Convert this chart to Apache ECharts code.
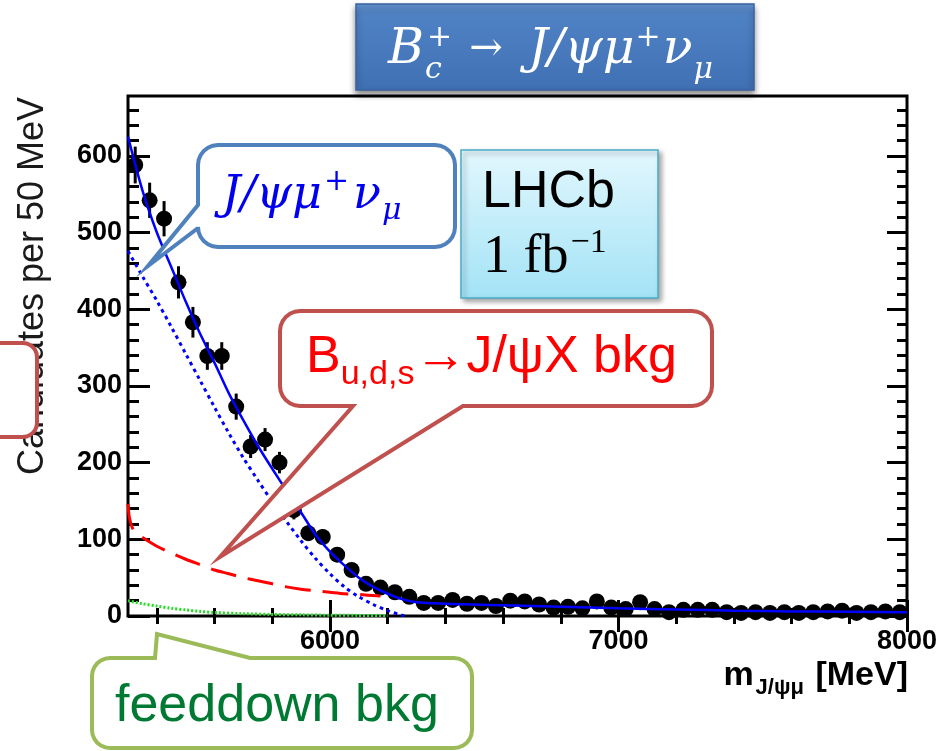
<!DOCTYPE html>
<html><head><meta charset="utf-8">
<script src="https://cdn.jsdelivr.net/npm/echarts@6/dist/echarts.min.js"></script>
<style>html,body{margin:0;padding:0;background:#fff}#c{width:947px;height:751px}</style>
</head><body><div id="c"></div>
<script>
// ---- data ----
const massBins = [5325,5375,5425,5475,5525,5575,5625,5675,5725,5775,5825,5875,5925,5975,6025,6075,6125,6175,6225,6275,
  6325,6375,6425,6475,6525,6575,6625,6675,6725,6775,6825,6875,6925,6975,7025,7075,7125,7175,7225,7275,
  7325,7375,7425,7475,7525,7575,7625,7675,7725,7775,7825,7875,7925,7975];
const candidates = [588,542,518,435,383,339,339,273,221,230,200,138,108,103,80,60,42,37,31,25,
  17,17,21,16,17,13,20,19,15,11,12,10,19,11,9,18,9,5,8,8,
  8,5,4,5,4,5,4,5,6,7,4,5,6,5];
const candErrors = [24,23,23,21,20,18,18,17,15,15,14,12,10,10,9,8,7,6,6,5,
  4,4,5,4,4,4,4,4,4,3,3,3,4,3,3,4,3,2,3,3,
  3,2,2,2,2,2,2,2,2,3,2,2,2,2];
const totalX   = [5300,5350,5400,5450,5500,5550,5600,5650,5700,5750,5800,5850,5900,5950,6000,6050,6100,6150,6200,6250,6300,6400,6500,6600,6800,7000,7200,7400,7600,7800,8000];
const totalFit = [625,555,500,455,410,368,330,290,255,222,192,163,135,106,84,66,50,38,29,22,18,16,15,14,12,10,8.5,7,6,5.5,5];
const signalX   = [5300,5350,5400,5450,5500,5550,5600,5650,5700,5750,5800,5850,5900,5950,6000,6050,6100,6150,6200,6250,6270];
const signalFit = [476,443,411,377,342,307,272,238,206,177,149,123,98,75,55,38,25,15,7,1,0];
const bkgX   = [5300,5305,5315,5330,5360,5400,5450,5500,5550,5600,5650,5700,5750,5800,5850,5900,5950,6000,6050,6100,6175];
const bkgFit = [146,128,115,108,100,91,82,74,67,60,55,50,46,42,38,35,33,31,29,28,26];
const feedX   = [5300,5350,5400,5450,5500,5550,5600,5700,5800,5900,6000,6100,6200];
const feedFit = [20,16,13,10,8,6,4.5,3,2,1.5,1,0.8,0.5];
const xMajorTicks = [6000,7000,8000];
const xMinorTicks = [5400,5600,5800,6200,6400,6600,6800,7200,7400,7600,7800];
const yMajorTicks = [0,100,200,300,400,500,600];
const yMinorTicks = [20,40,60,80,120,140,160,180,220,240,260,280,320,340,360,380,420,440,460,480,520,540,560,580,620,640,660];

const zip = (xs, ys) => xs.map((x, i) => [x, ys[i]]);

// rounded rectangle outline (clockwise) with an optional pointer, as polygon points
function calloutPoints(x, y, w, h, r, p) {
  const R = x + w, B = y + h, pts = [];
  const arc = (cx, cy, a0, a1) => { for (let k = 0; k <= 6; k++) { const a = a0 + (a1 - a0) * k / 6; pts.push([cx + r * Math.cos(a), cy + r * Math.sin(a)]); } };
  arc(x + r, y + r, Math.PI, 1.5 * Math.PI);
  if (p && p.edge === 'top') pts.push([p.a, y], p.tip, [p.b, y]);
  arc(R - r, y + r, 1.5 * Math.PI, 2 * Math.PI);
  arc(R - r, B - r, 0, 0.5 * Math.PI);
  if (p && p.edge === 'bottom') pts.push([p.b, B], p.tip, [p.a, B]);
  arc(x + r, B - r, 0.5 * Math.PI, Math.PI);
  if (p && p.edge === 'left') pts.push([x, p.b], p.tip, [x, p.a]);
  return pts;
}

const X0 = 5300, X1 = 8000, Y0 = 0, Y1 = 678;
const tickFont = { fontFamily: 'Liberation Sans', fontWeight: 'bold', fontSize: 27, color: '#000', formatter: v => String(v) };
function xAx(pos, ticks, len, labels) {
  return { type: 'value', min: X0, max: X1, position: pos, gridIndex: 0,
    axisLine: { show: false }, splitLine: { show: false },
    axisTick: { show: true, inside: true, length: len, customValues: ticks, lineStyle: { color: '#000', width: 3 } },
    axisLabel: labels ? Object.assign({ show: true, customValues: ticks, margin: 12 }, tickFont) : { show: false } };
}
function yAx(pos, ticks, len, labels) {
  return { type: 'value', min: Y0, max: Y1, position: pos, gridIndex: 0,
    axisLine: { show: false }, splitLine: { show: false },
    axisTick: { show: true, inside: true, length: len, customValues: ticks, lineStyle: { color: '#000', width: 3 } },
    axisLabel: labels ? Object.assign({ show: true, customValues: ticks, margin: 6 }, tickFont) : { show: false } };
}

const serifI = { fontFamily: 'DejaVu Serif', fontStyle: 'italic' };
const chart = echarts.init(document.getElementById('c'), null, { renderer: 'canvas' });
chart.setOption({
  animation: false,
  backgroundColor: '#fff',
  grid: { left: 128, right: 40, top: 96, bottom: 135, show: true, borderColor: '#000', borderWidth: 3, backgroundColor: 'transparent' },
  xAxis: [xAx('bottom', xMajorTicks, 16, true), xAx('bottom', xMinorTicks, 8, false), xAx('top', xMajorTicks, 16, false), xAx('top', xMinorTicks, 8, false)],
  yAxis: [yAx('left', yMajorTicks, 22, true), yAx('left', yMinorTicks, 11, false), yAx('right', yMajorTicks, 20, false), yAx('right', yMinorTicks, 10, false)],
  series: [
    { type: 'custom', xAxisIndex: 0, yAxisIndex: 0, z: 3, clip: true,
      data: massBins.map((m, i) => [m, candidates[i], candErrors[i]]),
      encode: { x: 0, y: 1 },
      renderItem: (params, api) => {
        const x = api.value(0), y = api.value(1), e = api.value(2);
        const a = api.coord([x, y - e]), b = api.coord([x, y + e]);
        return { type: 'line', shape: { x1: a[0], y1: a[1], x2: b[0], y2: b[1] }, style: { stroke: '#000', lineWidth: 3 } };
      } },
    { type: 'scatter', xAxisIndex: 0, yAxisIndex: 0, z: 4, symbol: 'circle', symbolSize: 16,
      itemStyle: { color: '#000', opacity: 1 }, data: zip(massBins, candidates) },
    { type: 'line', z: 5, smooth: 0.3, showSymbol: false, data: zip(feedX, feedFit),
      lineStyle: { color: '#22e022', width: 3, type: [2, 2] } },
    { type: 'line', z: 5, smooth: 0.3, showSymbol: false, data: zip(bkgX, bkgFit),
      lineStyle: { color: '#ff0000', width: 3, type: [26, 12] } },
    { type: 'line', z: 5, smooth: 0.3, showSymbol: false, data: zip(signalX, signalFit),
      lineStyle: { color: '#0000ff', width: 3, type: [3.5, 4] } },
    { type: 'line', z: 6, smooth: 0.3, showSymbol: false, data: zip(totalX, totalFit),
      lineStyle: { color: '#0000ff', width: 2.5 } }
  ],
  graphic: [
    // y axis title
    { type: 'text', x: 33, y: 286, rotation: Math.PI / 2, z: 10,
      style: { text: 'Candidates per 50 MeV', font: '36px "Liberation Sans"', fill: '#1a1a1a', align: 'center', verticalAlign: 'middle', textAlign: 'center', textVerticalAlign: 'middle' } },
    // x axis title
    { type: 'text', x: 908, y: 676, z: 10,
      style: { text: '{m|m}{s|J/ψμ}{m| [MeV]}', align: 'right', verticalAlign: 'middle', textAlign: 'right', textVerticalAlign: 'middle',
        rich: { m: { fontFamily: 'Liberation Sans', fontWeight: 'bold', fontSize: 34, fill: '#000', lineHeight: 40 },
                s: { fontFamily: 'Liberation Sans', fontWeight: 'bold', fontSize: 22, fill: '#000', lineHeight: 22, padding: [24, 2, 0, 2] } } } },
    // title box
    { type: 'rect', z: 20, shape: { x: 356, y: 4, width: 398, height: 86 },
      style: { fill: new echarts.graphic.LinearGradient(0, 0, 0, 1, [{ offset: 0, color: '#6a9ad8' }, { offset: 0.12, color: '#4f82c4' }, { offset: 1, color: '#3f70b4' }]),
        stroke: '#3a62a0', lineWidth: 1.5, shadowBlur: 6, shadowOffsetY: 4, shadowColor: 'rgba(0,0,0,0.45)' } },
    { type: 'text', x: 388, y: 50, z: 21,
      style: { text: '{m|B}{s|c}{a|  →  }{m|J/ψμ}{p|+}{m|ν}{s|μ}', align: 'left', verticalAlign: 'middle', textAlign: 'left', textVerticalAlign: 'middle',
        rich: { m: Object.assign({ fontSize: 49, fill: '#fff', lineHeight: 56 }, serifI),
                a: { fontFamily: 'DejaVu Serif', fontSize: 40, fill: '#fff', lineHeight: 56 },
                s: Object.assign({ fontSize: 30, fill: '#fff', lineHeight: 30, padding: [40, 2, 0, 1] }, serifI),
                p: Object.assign({ fontSize: 30, fill: '#fff', lineHeight: 30, padding: [0, 2, 24, 1] }, serifI) } } },
    { type: 'text', x: 427, y: 38, z: 21,
      style: { text: '+', font: 'italic 30px "DejaVu Serif"', fill: '#fff', align: 'left', verticalAlign: 'middle', textAlign: 'left', textVerticalAlign: 'middle' } },
    // LHCb box
    { type: 'rect', z: 20, shape: { x: 461, y: 150, width: 197, height: 148 },
      style: { fill: new echarts.graphic.LinearGradient(0, 0, 0, 1, [{ offset: 0, color: '#e2f7fd' }, { offset: 1, color: '#a3e3f6' }]),
        stroke: '#4bacc6', lineWidth: 1.5, shadowBlur: 5, shadowOffsetX: 3, shadowOffsetY: 3, shadowColor: 'rgba(0,0,0,0.35)' } },
    { type: 'text', x: 482, y: 193, z: 21,
      style: { text: 'LHCb', font: '52px "Liberation Sans"', fill: '#000', align: 'left', verticalAlign: 'middle', textAlign: 'left', textVerticalAlign: 'middle' } },
    { type: 'text', x: 483, y: 258, z: 21,
      style: { text: '{m|1 fb}{p|−1}', align: 'left', verticalAlign: 'middle', textAlign: 'left', textVerticalAlign: 'middle',
        rich: { m: { fontFamily: 'Liberation Serif', fontSize: 54, fill: '#000', lineHeight: 56 },
                p: { fontFamily: 'Liberation Serif', fontSize: 34, fill: '#000', lineHeight: 34, padding: [0, 0, 30, 2] } } } },
    // J/psi mu nu callout
    { type: 'polygon', z: 30, shape: { points: calloutPoints(198, 145, 257, 102, 20, { edge: 'left', a: 205, b: 228, tip: [148, 266] }) },
      style: { fill: '#fff', stroke: '#4f81bd', lineWidth: 4, lineJoin: 'miter' } },
    { type: 'text', x: 222, y: 196, z: 31,
      style: { text: '{m|J/ψμ}{p|+}{m|ν}{s|μ}', align: 'left', verticalAlign: 'middle', textAlign: 'left', textVerticalAlign: 'middle',
        rich: { m: Object.assign({ fontSize: 46, fill: '#0000ee', lineHeight: 56 }, serifI),
                s: Object.assign({ fontSize: 30, fill: '#0000ee', lineHeight: 30, padding: [30, 0, 0, 1] }, serifI),
                p: Object.assign({ fontSize: 30, fill: '#0000ee', lineHeight: 30, padding: [0, 4, 28, 2] }, serifI) } } },
    // B_{u,d,s} callout
    { type: 'polygon', z: 30, shape: { points: calloutPoints(280, 311, 432, 95, 20, { edge: 'bottom', a: 353, b: 463, tip: [220, 557] }) },
      style: { fill: '#fff', stroke: '#c0504d', lineWidth: 4, lineJoin: 'miter' } },
    { type: 'text', x: 306, y: 358, z: 31,
      style: { text: '{m|B}{s|u,d,s}{m|→J/ψX bkg}', align: 'left', verticalAlign: 'middle', textAlign: 'left', textVerticalAlign: 'middle',
        rich: { m: { fontFamily: 'Liberation Sans', fontSize: 52, fill: '#ff0000', lineHeight: 60 },
                s: { fontFamily: 'Liberation Sans', fontSize: 34, fill: '#ff0000', lineHeight: 34, padding: [34, 0, 0, 0] } } } },
    // feeddown callout
    { type: 'polygon', z: 30, shape: { points: calloutPoints(92, 658, 380, 90, 18, { edge: 'top', a: 155, b: 250, tip: [157, 634] }) },
      style: { fill: '#fff', stroke: '#9bbb59', lineWidth: 4, lineJoin: 'miter' } },
    { type: 'text', x: 115, y: 707, z: 31,
      style: { text: 'feeddown bkg', font: '52px "Liberation Sans"', fill: '#007a33', align: 'left', verticalAlign: 'middle', textAlign: 'left', textVerticalAlign: 'middle' } },
    // partial box at left edge
    { type: 'polygon', z: 30, shape: { points: calloutPoints(-40, 343, 77, 94, 14, null) },
      style: { fill: '#fff', stroke: '#c0504d', lineWidth: 4 } }
  ]
});
</script></body></html>
